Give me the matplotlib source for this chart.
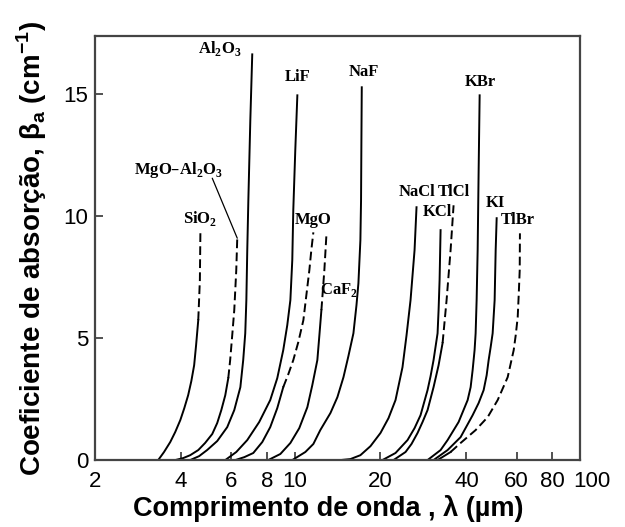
import numpy as np
import matplotlib
matplotlib.use('Agg')
import matplotlib.pyplot as plt
from matplotlib.ticker import FixedLocator, FixedFormatter, NullLocator
from matplotlib.transforms import ScaledTranslation

plt.rcParams['font.family'] = ['Liberation Sans', 'DejaVu Sans']

# wavelength (um) and absorption coefficient (cm^-1)
sio2_wl = [3.33, 3.49, 3.67, 3.82, 3.98, 4.11, 4.24, 4.35, 4.45, 4.52, 4.60, 4.63, 4.66, 4.68]
sio2_beta = [0, 0.33, 0.74, 1.15, 1.64, 2.13, 2.66, 3.24, 3.89, 4.71, 5.74, 6.56, 7.38, 9.34]

mgoal_wl = [3.82, 4.07, 4.31, 4.60, 4.86, 5.15, 5.36, 5.54, 5.72, 5.86, 5.95, 6.05, 6.15, 6.20, 6.25, 6.30]
mgoal_beta = [0, 0.08, 0.2, 0.41, 0.7, 1.07, 1.52, 2.05, 2.66, 3.36, 4.10, 5.12, 6.15, 6.97, 7.79, 9.10]

al2o3_wl = [4.31, 4.63, 4.94, 5.36, 5.81, 6.15, 6.46, 6.61, 6.72, 6.78, 6.83, 6.89, 7.00, 7.11]
al2o3_beta = [0, 0.16, 0.41, 0.78, 1.35, 2.05, 2.99, 4.10, 5.20, 6.56, 8.61, 10.66, 13.93, 16.64]

lif_wl = [5.72, 6.25, 6.83, 7.52, 8.22, 8.70, 9.13, 9.43, 9.67, 9.82, 9.90, 10.06, 10.23]
lif_beta = [0, 0.33, 0.82, 1.56, 2.46, 3.36, 4.51, 5.53, 6.56, 8.20, 10.25, 12.70, 14.96]

mgo_wl = [6.20, 6.67, 7.17, 7.71, 8.22, 8.70, 9.13, 9.51, 9.90, 10.31, 10.74, 11.00, 11.27, 11.45, 11.64]
mgo_beta = [0, 0.12, 0.29, 0.74, 1.35, 2.13, 2.99, 3.52, 4.10, 4.84, 5.74, 6.76, 7.79, 8.61, 9.34]

caf2_wl = [8.09, 8.92, 9.67, 10.39, 11.09, 11.54, 12.02, 12.22, 12.42, 12.72, 12.93]
caf2_beta = [0, 0.25, 0.70, 1.31, 2.17, 3.07, 4.10, 5.12, 6.15, 7.79, 9.22]

naf_wl = [9.82, 10.91, 11.64, 12.31, 13.36, 14.13, 14.84, 15.44, 16.08, 16.48, 16.74, 17.01, 17.10, 17.15, 17.20]
naf_beta = [0, 0.33, 0.66, 1.23, 1.93, 2.58, 3.40, 4.26, 5.20, 6.35, 7.25, 9.02, 10.66, 13.11, 15.29]

nacl_wl = [14.48, 15.69, 17.01, 18.45, 20.0, 21.34, 22.58, 23.89, 24.68, 25.49, 26.33, 26.75]
nacl_beta = [0, 0.04, 0.2, 0.57, 1.11, 1.72, 2.46, 3.81, 5.12, 6.56, 8.61, 10.37]

kcl_wl = [20.32, 22.58, 24.88, 26.33, 27.63, 29.24, 29.96, 30.69, 31.70, 31.96, 32.22, 32.48]
kcl_beta = [0, 0.29, 0.82, 1.31, 1.84, 2.87, 3.44, 4.10, 5.20, 6.15, 7.38, 9.43]

tlcl_wl = [22.22, 24.48, 25.69, 26.97, 28.08, 29.24, 30.69, 31.96, 33.01, 34.09, 35.21, 36.07]
tlcl_beta = [0, 0.33, 0.66, 1.11, 1.56, 2.05, 2.99, 3.89, 4.80, 6.56, 8.61, 10.45]

kbr_wl = [29.24, 32.48, 34.37, 37.56, 40.40, 41.39, 42.06, 42.73, 43.09, 43.44, 43.80, 44.15, 44.51]
kbr_beta = [0, 0.41, 0.82, 1.56, 2.46, 2.99, 3.69, 4.51, 5.20, 6.56, 8.61, 11.89, 14.96]

ki_wl = [30.69, 34.37, 38.17, 42.06, 44.15, 45.97, 47.10, 47.86, 48.64, 49.43, 50.23, 50.65, 51.06]
ki_beta = [0, 0.41, 0.94, 1.84, 2.34, 2.87, 3.48, 4.10, 4.63, 5.20, 6.56, 8.61, 9.92]

tlbr_wl = [31.70, 35.21, 38.17, 43.09, 47.48, 51.47, 55.80, 58.58, 59.54, 60.50, 60.99, 61.49, 61.60]
tlbr_beta = [0, 0.33, 0.70, 1.23, 1.76, 2.46, 3.40, 4.51, 5.12, 5.86, 6.76, 7.79, 9.30]

# (x, y, index where the dashed part starts or None)
curves = [
    (sio2_wl, sio2_beta, 10),
    (mgoal_wl, mgoal_beta, 9),
    (al2o3_wl, al2o3_beta, None),
    (lif_wl, lif_beta, None),
    (mgo_wl, mgo_beta, 6),
    (caf2_wl, caf2_beta, 8),
    (naf_wl, naf_beta, None),
    (nacl_wl, nacl_beta, None),
    (kcl_wl, kcl_beta, None),
    (tlcl_wl, tlcl_beta, 8),
    (kbr_wl, kbr_beta, None),
    (ki_wl, ki_beta, None),
    (tlbr_wl, tlbr_beta, 1),
]

label_text = [r'SiO$_\mathregular{2}$', r'MgO–Al$_\mathregular{2}$O$_\mathregular{3}$',
              r'Al$_\mathregular{2}$O$_\mathregular{3}$', 'LiF', 'MgO', r'CaF$_\mathregular{2}$',
              'NaF', 'NaCl', 'KCl', 'TlCl', 'KBr', 'KI', 'TlBr']
label_x = [4.67, 3.91, 5.49, 10.23, 11.64, 12.31, 17.43, 26.75, 28.08, 36.07, 44.9, 50.65, 60.5]
label_y = [9.92, 11.89, 16.9, 15.7, 9.84, 6.97, 15.9, 11.0, 10.16, 11.0, 15.5, 10.53, 9.84]
label_ha = ['center', 'center', 'center', 'center', 'center', 'left',
            'center', 'center', 'left', 'center', 'center', 'center', 'center']

xticks = [2, 4, 6, 8, 10, 20, 40, 60, 80, 100]
yticks = [0, 5, 10, 15]

fig = plt.figure(figsize=(6.25, 5.27), dpi=100)
ax = fig.add_axes([0.152, 0.127, 0.776, 0.805])

for wl, beta, k in curves:
    if k is None:
        ax.plot(wl, beta, color='black', lw=1.4)
    else:
        ax.plot(wl[:k + 1], beta[:k + 1], color='black', lw=1.4)
        ax.plot(wl[k:], beta[k:], color='black', lw=1.4, dashes=(4.5, 2.2))

for t, x, y, ha in zip(label_text, label_x, label_y, label_ha):
    ax.text(x, y, t, ha=ha, va='center', fontsize=12, fontweight='bold',
            family='Liberation Serif')

# leader line for the spinel label
ax.annotate('', xy=(mgoal_wl[-1], mgoal_beta[-1]), xytext=(5.15, 11.56),
            arrowprops=dict(arrowstyle='-', lw=0.9, color='black', shrinkA=0, shrinkB=0))

ax.set_xscale('log')
ax.set_xlim(2, 100)
ax.set_ylim(0, 17.4)
ax.xaxis.set_major_locator(FixedLocator(xticks))
ax.xaxis.set_major_formatter(FixedFormatter([str(v) for v in xticks]))
ax.xaxis.set_minor_locator(NullLocator())
ax.set_yticks(yticks)
ax.tick_params(direction='in', length=6, width=1.2, labelsize=16, color='#333333')
ax.tick_params(axis='x', pad=8)
ax.tick_params(axis='y', pad=5)
for s in ax.spines.values():
    s.set_linewidth(1.6)
    s.set_color('#444444')

# the "100" label sits a little right of its tick in the original
fig.canvas.draw()
lab = ax.get_xticklabels()[-1]
lab.set_transform(lab.get_transform() + ScaledTranslation(0.12, 0, fig.dpi_scale_trans))

ax.set_xlabel('Comprimento de onda , λ (µm)', fontsize=19.5, fontweight='bold', labelpad=2)
ax.xaxis.label.set_x(0.48)
ax.set_ylabel(r'Coeficiente de absorção, β$_\mathregular{a}$ (cm$^\mathregular{-1}$)',
              fontsize=20, fontweight='bold', labelpad=10)

fig.savefig('out.png', dpi=100)
